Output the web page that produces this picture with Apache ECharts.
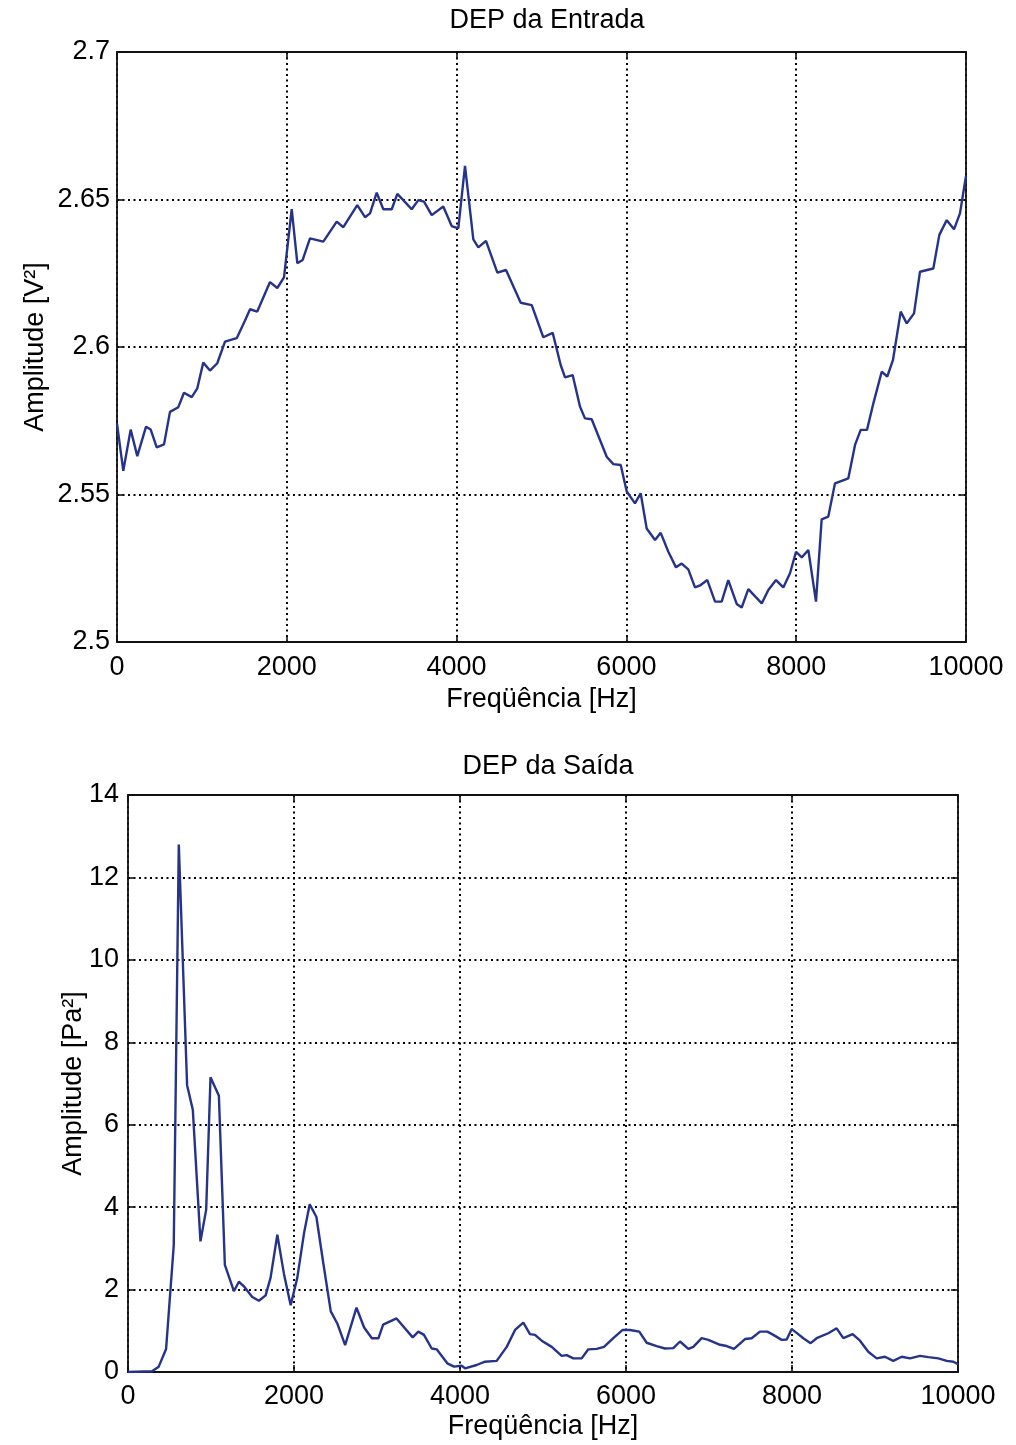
<!DOCTYPE html>
<html>
<head>
<meta charset="utf-8">
<script src="https://cdn.jsdelivr.net/npm/echarts@6/dist/echarts.min.js"></script>
<style>
html,body{margin:0;padding:0;background:#fff;}
#chart{width:1016px;height:1445px;}
</style>
</head>
<body>
<div id="chart"></div>
<script>
// ---- Data ----
const xTicks = [0, 2000, 4000, 6000, 8000, 10000];

const inFreq = [0,74,161,239,342,397,468,554,624,722,789,880,946,1016,1095,1181,1272,1410,1508,1567,1652,1802,1888,1967,2058,2124,2187,2273,2430,2588,2666,2830,2921,2980,3059,3137,3236,3302,3372,3471,3549,3616,3707,3843,3942,4020,4099,4197,4256,4346,4480,4582,4755,4885,5021,5132,5226,5277,5367,5453,5512,5591,5728,5768,5846,5933,6004,6101,6168,6239,6337,6404,6494,6584,6651,6729,6808,6875,6953,7044,7122,7200,7299,7358,7436,7594,7672,7762,7848,7927,7998,8065,8143,8233,8300,8378,8457,8614,8693,8760,8834,8909,9007,9073,9140,9231,9302,9388,9458,9615,9686,9773,9859,9929,10000];
const inAmp = [2.574,2.558,2.572,2.563,2.573,2.572,2.566,2.567,2.578,2.5796,2.5845,2.583,2.586,2.5947,2.592,2.5945,2.6018,2.603,2.609,2.6128,2.612,2.622,2.620,2.6236,2.6467,2.6284,2.6295,2.6368,2.6357,2.6425,2.6406,2.6481,2.644,2.6453,2.6523,2.6467,2.6467,2.6519,2.6498,2.6467,2.6498,2.6493,2.6447,2.6476,2.641,2.6402,2.6614,2.6365,2.6338,2.636,2.6252,2.6261,2.615,2.6142,2.6033,2.6048,2.5939,2.5897,2.5905,2.5798,2.5758,2.5755,2.5657,2.5628,2.5603,2.56,2.551,2.547,2.5504,2.5385,2.5346,2.537,2.5306,2.5253,2.5266,2.5246,2.5185,2.5193,2.521,2.5137,2.5137,2.521,2.5129,2.5117,2.5179,2.5131,2.5176,2.521,2.5185,2.5233,2.5306,2.5287,2.5312,2.5137,2.5416,2.5425,2.5538,2.5555,2.5668,2.5719,2.5719,2.5809,2.5916,2.59,2.5956,2.612,2.608,2.6114,2.6255,2.6266,2.638,2.643,2.6399,2.6453,2.658];

const outFreq = [0,290,370,459,551,612,712,781,873,942,994,1095,1167,1276,1336,1396,1497,1577,1658,1718,1799,1879,1960,2040,2121,2189,2270,2350,2443,2523,2616,2753,2845,2938,3018,3074,3235,3430,3498,3566,3659,3719,3847,3928,4020,4060,4201,4301,4442,4563,4663,4763,4843,4904,4984,5105,5225,5285,5365,5466,5546,5647,5735,5847,5960,6048,6160,6249,6369,6470,6570,6651,6751,6811,6912,6992,7133,7213,7301,7434,7514,7614,7703,7775,7876,7936,7996,8056,8136,8225,8297,8437,8538,8618,8731,8819,8919,9020,9120,9220,9322,9422,9542,9642,9763,9864,9944,10000];
const outAmp = [0,0.02,0.13,0.56,3.07,12.8,6.96,6.36,3.17,3.94,7.15,6.70,2.60,1.96,2.19,2.08,1.82,1.73,1.86,2.29,3.33,2.38,1.62,2.29,3.37,4.07,3.76,2.68,1.47,1.17,0.65,1.56,1.08,0.82,0.82,1.15,1.30,0.84,0.98,0.90,0.57,0.55,0.21,0.13,0.15,0.09,0.17,0.25,0.27,0.61,1.02,1.20,0.92,0.90,0.76,0.61,0.39,0.41,0.33,0.33,0.55,0.56,0.61,0.82,1.02,1.02,0.98,0.71,0.63,0.57,0.58,0.74,0.56,0.61,0.82,0.78,0.66,0.63,0.56,0.80,0.82,0.98,0.98,0.90,0.78,0.79,1.04,0.95,0.82,0.70,0.82,0.94,1.06,0.82,0.92,0.76,0.49,0.33,0.37,0.27,0.37,0.33,0.39,0.36,0.33,0.27,0.25,0.19];

const titles = ['DEP da Entrada', 'DEP da Saída'];
const xName = 'Freqüência [Hz]';
const yNames = ['Amplitude [V²]', 'Amplitude [Pa²]'];

// ---- Styling ----
const FONT = '"Liberation Sans", Arial, Helvetica, sans-serif';
const FS = 27;
const LINE_COLOR = '#26338a';
const gridLine = { show: true, lineStyle: { color: '#000', type: [2, 3.5], width: 2 } };
const axisLine = { show: true, onZero: false, lineStyle: { color: '#111', width: 1.8 } };
const tick = { show: true, inside: true, length: 7, lineStyle: { color: '#111', width: 1.6 } };
const lbl = { color: '#000', fontSize: FS, fontFamily: FONT };
const nameStyle = { fontSize: FS, color: '#000', fontFamily: FONT };
const titleStyle = { fontSize: FS, fontWeight: 'normal', color: '#000', fontFamily: FONT };

function zip(a, b) { return a.map((v, i) => [v, b[i]]); }
const plainX = v => String(v);

const chart = echarts.init(document.getElementById('chart'), null, { renderer: 'canvas' });

const option = {
  backgroundColor: '#fff',
  animation: false,
  title: [
    { text: titles[0], left: 542, top: 2, textAlign: 'center', textStyle: titleStyle },
    { text: titles[1], left: 543, top: 748, textAlign: 'center', textStyle: titleStyle }
  ],
  grid: [
    { left: 117, top: 52, width: 849, height: 590 },
    { left: 128, top: 795, width: 830, height: 577 }
  ],
  xAxis: [
    { gridIndex: 0, type: 'value', min: 0, max: 10000, interval: 2000, position: 'bottom',
      axisLine, axisTick: tick, splitLine: gridLine,
      axisLabel: Object.assign({ margin: 12, formatter: plainX }, lbl),
      name: xName, nameLocation: 'middle', nameGap: 44, nameMoveOverlap: false, nameTextStyle: nameStyle },
    { gridIndex: 0, type: 'value', min: 0, max: 10000, interval: 2000, position: 'top',
      axisLine, axisTick: tick, splitLine: { show: false }, axisLabel: { show: false } },
    { gridIndex: 1, type: 'value', min: 0, max: 10000, interval: 2000, position: 'bottom',
      axisLine, axisTick: tick, splitLine: gridLine,
      axisLabel: Object.assign({ margin: 11, formatter: plainX }, lbl),
      name: xName, nameLocation: 'middle', nameGap: 41, nameMoveOverlap: false, nameTextStyle: nameStyle },
    { gridIndex: 1, type: 'value', min: 0, max: 10000, interval: 2000, position: 'top',
      axisLine, axisTick: tick, splitLine: { show: false }, axisLabel: { show: false } }
  ],
  yAxis: [
    { gridIndex: 0, type: 'value', min: 2.5, max: 2.7, interval: 0.05, position: 'left',
      axisLine, axisTick: tick, splitLine: gridLine,
      axisLabel: Object.assign({ margin: 7, formatter: v => String(+v.toFixed(2)) }, lbl),
      name: yNames[0], nameLocation: 'middle', nameGap: 68, nameRotate: 90, nameMoveOverlap: false,
      nameTextStyle: nameStyle },
    { gridIndex: 0, type: 'value', min: 2.5, max: 2.7, interval: 0.05, position: 'right',
      axisLine, axisTick: tick, splitLine: { show: false }, axisLabel: { show: false } },
    { gridIndex: 1, type: 'value', min: 0, max: 14, interval: 2, position: 'left',
      axisLine, axisTick: tick, splitLine: gridLine,
      axisLabel: Object.assign({ margin: 9 }, lbl),
      name: yNames[1], nameLocation: 'middle', nameGap: 41, nameRotate: 90, nameMoveOverlap: false,
      nameTextStyle: nameStyle },
    { gridIndex: 1, type: 'value', min: 0, max: 14, interval: 2, position: 'right',
      axisLine, axisTick: tick, splitLine: { show: false }, axisLabel: { show: false } }
  ],
  series: [
    { type: 'line', xAxisIndex: 0, yAxisIndex: 0, data: zip(inFreq, inAmp),
      showSymbol: false, lineStyle: { color: LINE_COLOR, width: 2.4 }, z: 5 },
    { type: 'line', xAxisIndex: 2, yAxisIndex: 2, data: zip(outFreq, outAmp),
      showSymbol: false, lineStyle: { color: LINE_COLOR, width: 2.4 }, z: 5 }
  ]
};
chart.setOption(option);
</script>
</body>
</html>
